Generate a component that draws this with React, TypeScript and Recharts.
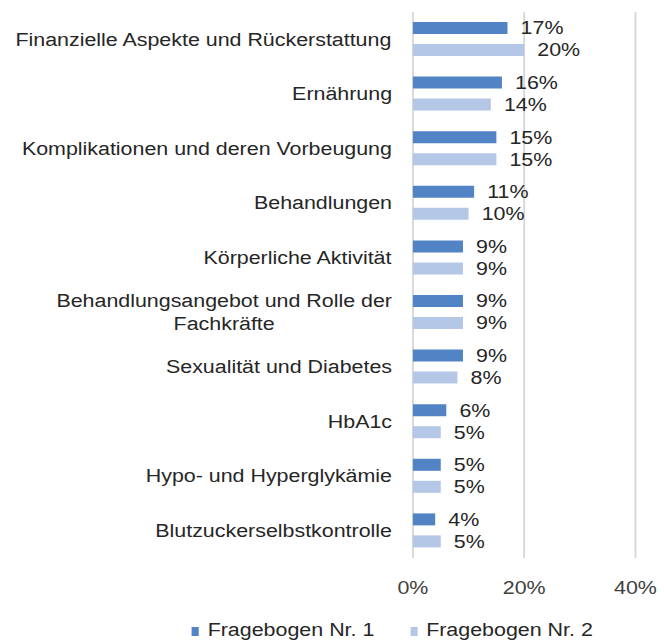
import React from "react";
import {
  BarChart,
  Bar,
  XAxis,
  YAxis,
  CartesianGrid,
  Legend,
  LabelList,
} from "recharts";

const categories = [
  "Finanzielle Aspekte und Rückerstattung",
  "Ernährung",
  "Komplikationen und deren Vorbeugung",
  "Behandlungen",
  "Körperliche Aktivität",
  "Behandlungsangebot und Rolle der\nFachkräfte",
  "Sexualität und Diabetes",
  "HbA1c",
  "Hypo- und Hyperglykämie",
  "Blutzuckerselbstkontrolle",
];

const fragebogen1 = [17, 16, 15, 11, 9, 9, 9, 6, 5, 4];
const fragebogen2 = [20, 14, 15, 10, 9, 9, 8, 5, 5, 5];

const xTicks = [0, 20, 40];

const SERIES_1 = "Fragebogen Nr. 1";
const SERIES_2 = "Fragebogen Nr. 2";

const data = categories.map((name, i) => ({
  name,
  f1: fragebogen1[i],
  f2: fragebogen2[i],
}));

// the original is stretched horizontally, so draw narrow and scale the whole thing
const STRETCH = 1.19;
const W = 558;
const H = 641;
const FONT = "'Liberation Sans', Arial, sans-serif";
const FONT_SIZE = 18;
const TEXT = "#262626";

let ctx: CanvasRenderingContext2D | null = null;
function textWidth(s: string) {
  if (!ctx) ctx = document.createElement("canvas").getContext("2d");
  if (!ctx) return s.length * FONT_SIZE * 0.5;
  ctx.font = `${FONT_SIZE}px ${FONT}`;
  return ctx.measureText(s).width;
}

function CategoryTick(props: any) {
  const { x, y, payload } = props;
  const lines = String(payload.value).split("\n");
  const maxW = Math.max(...lines.map(textWidth));
  const lh = 23;
  return (
    <g>
      {lines.map((line, i) => (
        <text
          key={i}
          x={x - maxW / 2}
          y={y + (i - (lines.length - 1) / 2) * lh}
          dy="0.355em"
          textAnchor="middle"
          fill={TEXT}
          fontSize={FONT_SIZE}
          fontFamily={FONT}
        >
          {line}
        </text>
      ))}
    </g>
  );
}

function LegendContent(props: any) {
  const { payload } = props;
  return (
    <div style={{ display: "flex", fontFamily: FONT, fontSize: FONT_SIZE, lineHeight: "20px", color: TEXT }}>
      {(payload || []).map((p: any, i: number) => (
        <div key={i} style={{ display: "flex", alignItems: "center", marginRight: 30 }}>
          <span
            style={{
              display: "inline-block",
              width: 6,
              height: 9,
              background: p.color,
              marginRight: 7.5,
              marginTop: 3,
            }}
          />
          <span>{p.value}</span>
        </div>
      ))}
    </div>
  );
}

export default function App() {
  return (
    <div
      style={{
        position: "absolute",
        left: 0,
        top: 0,
        width: W,
        height: H,
        background: "#fff",
        transform: `scaleX(${STRETCH})`,
        transformOrigin: "0 0",
      }}
    >
      <BarChart
        width={W}
        height={H}
        data={data}
        layout="vertical"
        margin={{ top: 12, right: 24, bottom: 38, left: 0 }}
        barSize={12}
        barGap={10}
      >
        <CartesianGrid horizontal={false} stroke="#d6d6d6" strokeWidth={1.5} />
        <XAxis
          type="number"
          domain={[0, 40]}
          ticks={xTicks}
          tickFormatter={(v: number) => v + "%"}
          axisLine={false}
          tickLine={false}
          tickSize={0}
          tickMargin={23}
          height={45}
          tick={{ fill: "#404040", fontSize: FONT_SIZE, fontFamily: FONT }}
        />
        <YAxis
          type="category"
          dataKey="name"
          width={347}
          axisLine={false}
          tickLine={false}
          tickSize={0}
          tickMargin={17.5}
          interval={0}
          tick={<CategoryTick />}
        />
        <Legend
          layout="horizontal"
          verticalAlign="middle"
          content={<LegendContent />}
          wrapperStyle={{ top: 620, left: 161, width: 390, height: 20 }}
        />
        <Bar dataKey="f1" name={SERIES_1} fill="#5283C4" isAnimationActive={false}>
          <LabelList
            dataKey="f1"
            position="right"
            offset={11}
            formatter={(v: any) => v + "%"}
            fill={TEXT}
            fontSize={FONT_SIZE}
            fontFamily={FONT}
          />
        </Bar>
        <Bar dataKey="f2" name={SERIES_2} fill="#B4C7E7" isAnimationActive={false}>
          <LabelList
            dataKey="f2"
            position="right"
            offset={11}
            formatter={(v: any) => v + "%"}
            fill={TEXT}
            fontSize={FONT_SIZE}
            fontFamily={FONT}
          />
        </Bar>
      </BarChart>
    </div>
  );
}
